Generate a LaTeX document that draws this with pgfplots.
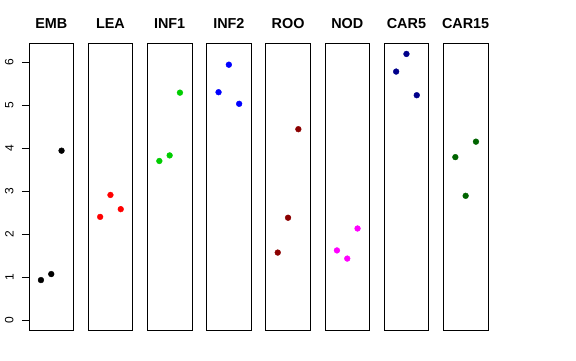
\documentclass[border=0pt]{standalone}
\usepackage{pgfplots}
\pgfplotsset{compat=1.18}
\usepackage{fontspec}
\setmainfont{Liberation Sans}
\definecolor{gthree}{HTML}{00CD00}
\definecolor{dred}{HTML}{8B0000}
\definecolor{dblue}{HTML}{00008B}
\definecolor{dgreen}{HTML}{006400}
\definecolor{mag}{HTML}{FF00FF}
\definecolor{rred}{HTML}{FF0000}
\definecolor{bblue}{HTML}{0000FF}
\pgfplotsset{panel/.style={
  width=44.5pt, height=287.4pt, scale only axis,
  xmin=-0.16, xmax=4.16, ymin=-0.2476, ymax=6.4376,
  xtick=\empty, ytick=\empty,
  axis line style={black, line width=0.75pt},
  title style={at={(0.5,1)}, anchor=base, yshift=9.3pt, inner sep=0pt,
    font=\fontsize{14.4}{16}\selectfont\bfseries},
  anchor=south west, clip=false,
},
pts/.style={only marks, mark=*, mark size=2.9pt, color=#1}}
\begin{document}
\begin{tikzpicture}
\path[use as bounding box] (0pt,0pt) rectangle (576pt,360pt);
\begin{axis}[panel, at={(29pt,29.3pt)}, title={EMB},
  ytick={0,1,2,3,4,5,6}, ytick pos=left, tick align=outside,
  major tick length=7.2pt, ytick style={black, line width=0.75pt},
  yticklabel style={rotate=90, anchor=south, inner sep=0pt, yshift=8pt, font=\fontsize{12}{14}\selectfont},
  /pgf/number format/assume math mode=true]
\addplot[pts=black] coordinates {(1,0.93) (2,1.07) (3,3.94)};
\end{axis}
\begin{axis}[panel, at={(88.2pt,29.3pt)}, title={LEA}]
\addplot[pts=rred] coordinates {(1,2.40) (2,2.91) (3,2.58)};
\end{axis}
\begin{axis}[panel, at={(147.4pt,29.3pt)}, title={INF1}]
\addplot[pts=gthree] coordinates {(1,3.70) (2,3.83) (3,5.29)};
\end{axis}
\begin{axis}[panel, at={(206.6pt,29.3pt)}, title={INF2}]
\addplot[pts=bblue] coordinates {(1,5.30) (2,5.94) (3,5.03)};
\end{axis}
\begin{axis}[panel, at={(265.8pt,29.3pt)}, title={ROO}]
\addplot[pts=dred] coordinates {(1,1.57) (2,2.38) (3,4.44)};
\end{axis}
\begin{axis}[panel, at={(325pt,29.3pt)}, title={NOD}]
\addplot[pts=mag] coordinates {(1,1.62) (2,1.43) (3,2.13)};
\end{axis}
\begin{axis}[panel, at={(384.2pt,29.3pt)}, title={CAR5}]
\addplot[pts=dblue] coordinates {(1,5.78) (2,6.19) (3,5.23)};
\end{axis}
\begin{axis}[panel, at={(443.4pt,29.3pt)}, title={CAR15}]
\addplot[pts=dgreen] coordinates {(1,3.79) (2,2.89) (3,4.15)};
\end{axis}
\end{tikzpicture}
\end{document}
